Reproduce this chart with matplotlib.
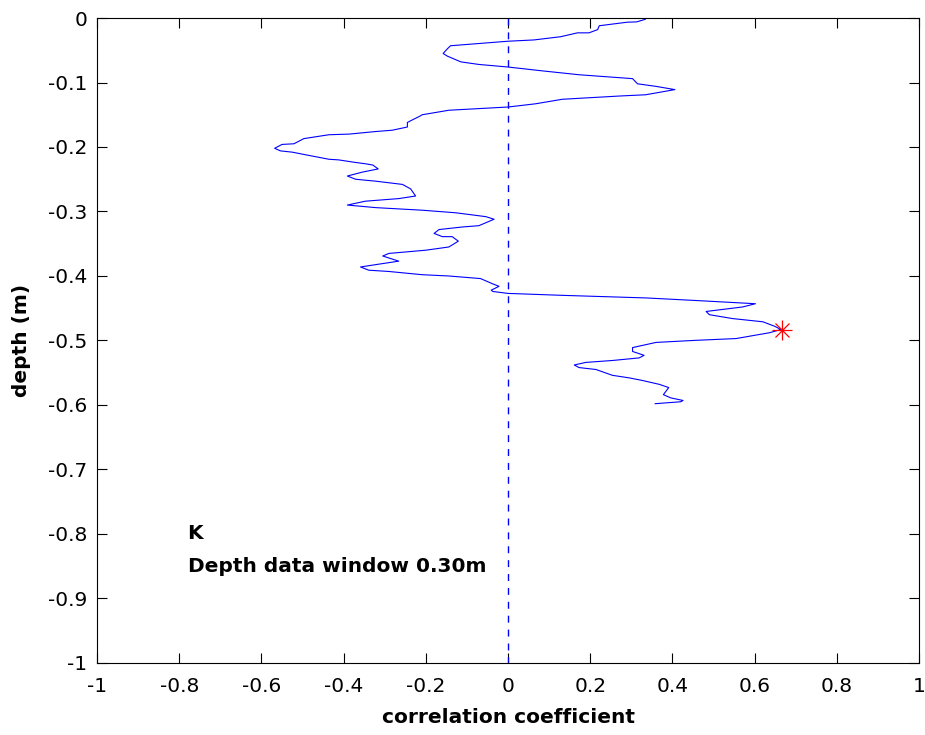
import matplotlib
matplotlib.use('Agg')
import matplotlib.pyplot as plt

plt.rcParams['font.family'] = ['DejaVu Sans']
plt.rcParams['axes.unicode_minus'] = False

# correlation coefficient vs depth
corr = [0.334, 0.313, 0.29, 0.222, 0.218, 0.197, 0.169, 0.128, 0.063, 0.0,
        -0.14, -0.148, -0.158, -0.148, -0.126, -0.115, -0.071, 0.0, 0.084, 0.173,
        0.303, 0.315, 0.36, 0.406, 0.335, 0.27, 0.132, 0.067, 0.0, -0.144,
        -0.209, -0.217, -0.233, -0.245, -0.245, -0.282, -0.322, -0.387, -0.436, -0.497,
        -0.521, -0.55, -0.568, -0.554, -0.525, -0.485, -0.436, -0.412, -0.371, -0.347,
        -0.329, -0.316, -0.355, -0.391, -0.371, -0.322, -0.257, -0.237, -0.225, -0.266,
        -0.347, -0.391, -0.322, -0.209, -0.127, -0.054, -0.034, -0.071, -0.111, -0.168,
        -0.18, -0.16, -0.136, -0.121, -0.144, -0.2, -0.29, -0.305, -0.266, -0.318,
        -0.359, -0.339, -0.29, -0.209, -0.144, -0.067, -0.038, -0.022, -0.041, -0.037,
        0.0, 0.132, 0.335, 0.457, 0.602, 0.571, 0.482, 0.49, 0.546, 0.62,
        0.649, 0.664, 0.636, 0.555, 0.449, 0.36, 0.303, 0.303, 0.331, 0.319,
        0.254, 0.189, 0.161, 0.173, 0.214, 0.254, 0.295, 0.327, 0.368, 0.391,
        0.378, 0.396, 0.426, 0.42, 0.358]
depth = [-0.002, -0.006, -0.0065, -0.012, -0.018, -0.023, -0.023, -0.029, -0.034, -0.036,
         -0.043, -0.048, -0.055, -0.059, -0.065, -0.068, -0.072, -0.076, -0.082, -0.088,
         -0.094, -0.102, -0.106, -0.111, -0.119, -0.121, -0.126, -0.133, -0.138, -0.143,
         -0.15, -0.153, -0.158, -0.162, -0.169, -0.174, -0.176, -0.18, -0.181, -0.187,
         -0.195, -0.196, -0.202, -0.206, -0.208, -0.213, -0.219, -0.22, -0.224, -0.226,
         -0.228, -0.234, -0.239, -0.245, -0.25, -0.253, -0.258, -0.265, -0.276, -0.28,
         -0.284, -0.29, -0.294, -0.298, -0.302, -0.308, -0.312, -0.322, -0.324, -0.328,
         -0.334, -0.339, -0.339, -0.346, -0.355, -0.36, -0.365, -0.369, -0.377, -0.382,
         -0.386, -0.391, -0.393, -0.398, -0.4, -0.404, -0.412, -0.416, -0.422, -0.424,
         -0.427, -0.43, -0.434, -0.438, -0.443, -0.448, -0.455, -0.46, -0.466, -0.471,
         -0.478, -0.483, -0.488, -0.497, -0.5, -0.503, -0.511, -0.517, -0.523, -0.527,
         -0.531, -0.534, -0.538, -0.542, -0.545, -0.554, -0.558, -0.562, -0.568, -0.573,
         -0.584, -0.589, -0.593, -0.595, -0.598]

best_corr = 0.666
best_depth = -0.483

xticks = [-1, -0.8, -0.6, -0.4, -0.2, 0, 0.2, 0.4, 0.6, 0.8, 1]
yticks = [0, -0.1, -0.2, -0.3, -0.4, -0.5, -0.6, -0.7, -0.8, -0.9, -1]

fig = plt.figure(figsize=(9.25, 7.35), dpi=100)
ax = fig.add_axes([0.105, 0.098, 0.8885, 0.8775])

ax.plot(corr, depth, color='blue', lw=0.8)
ax.plot([0, 0], [0, -1], color='blue', lw=1, linestyle=(0, (5, 5)))
# matlab style asterisk
ax.plot(best_corr, best_depth, marker='+', color='red', markersize=15,
        markeredgewidth=0.9, linestyle='none')
ax.plot(best_corr, best_depth, marker='x', color='red', markersize=10,
        markeredgewidth=0.9, linestyle='none')

ax.text(-0.78, -0.80, 'K', fontsize=14.5, fontweight='bold', va='center')
ax.text(-0.78, -0.851, 'Depth data window 0.30m', fontsize=14.5,
        fontweight='bold', va='center')

ax.set_xlim(-1, 1)
ax.set_ylim(-1, 0)
ax.set_xticks(xticks)
ax.set_xticklabels([('%g' % t) for t in xticks])
ax.set_yticks(yticks)
ax.set_yticklabels([('%g' % t) for t in yticks])
ax.tick_params(direction='in', top=True, right=True, length=7, labelsize=14.5)
ax.tick_params(axis='x', pad=10)
ax.tick_params(axis='y', pad=7)
ax.set_xlabel('correlation coefficient', fontsize=14.5, fontweight='bold', labelpad=9)
ax.set_ylabel('depth (m)', fontsize=14.5, fontweight='bold', labelpad=12)

fig.savefig('out.png', dpi=100)
